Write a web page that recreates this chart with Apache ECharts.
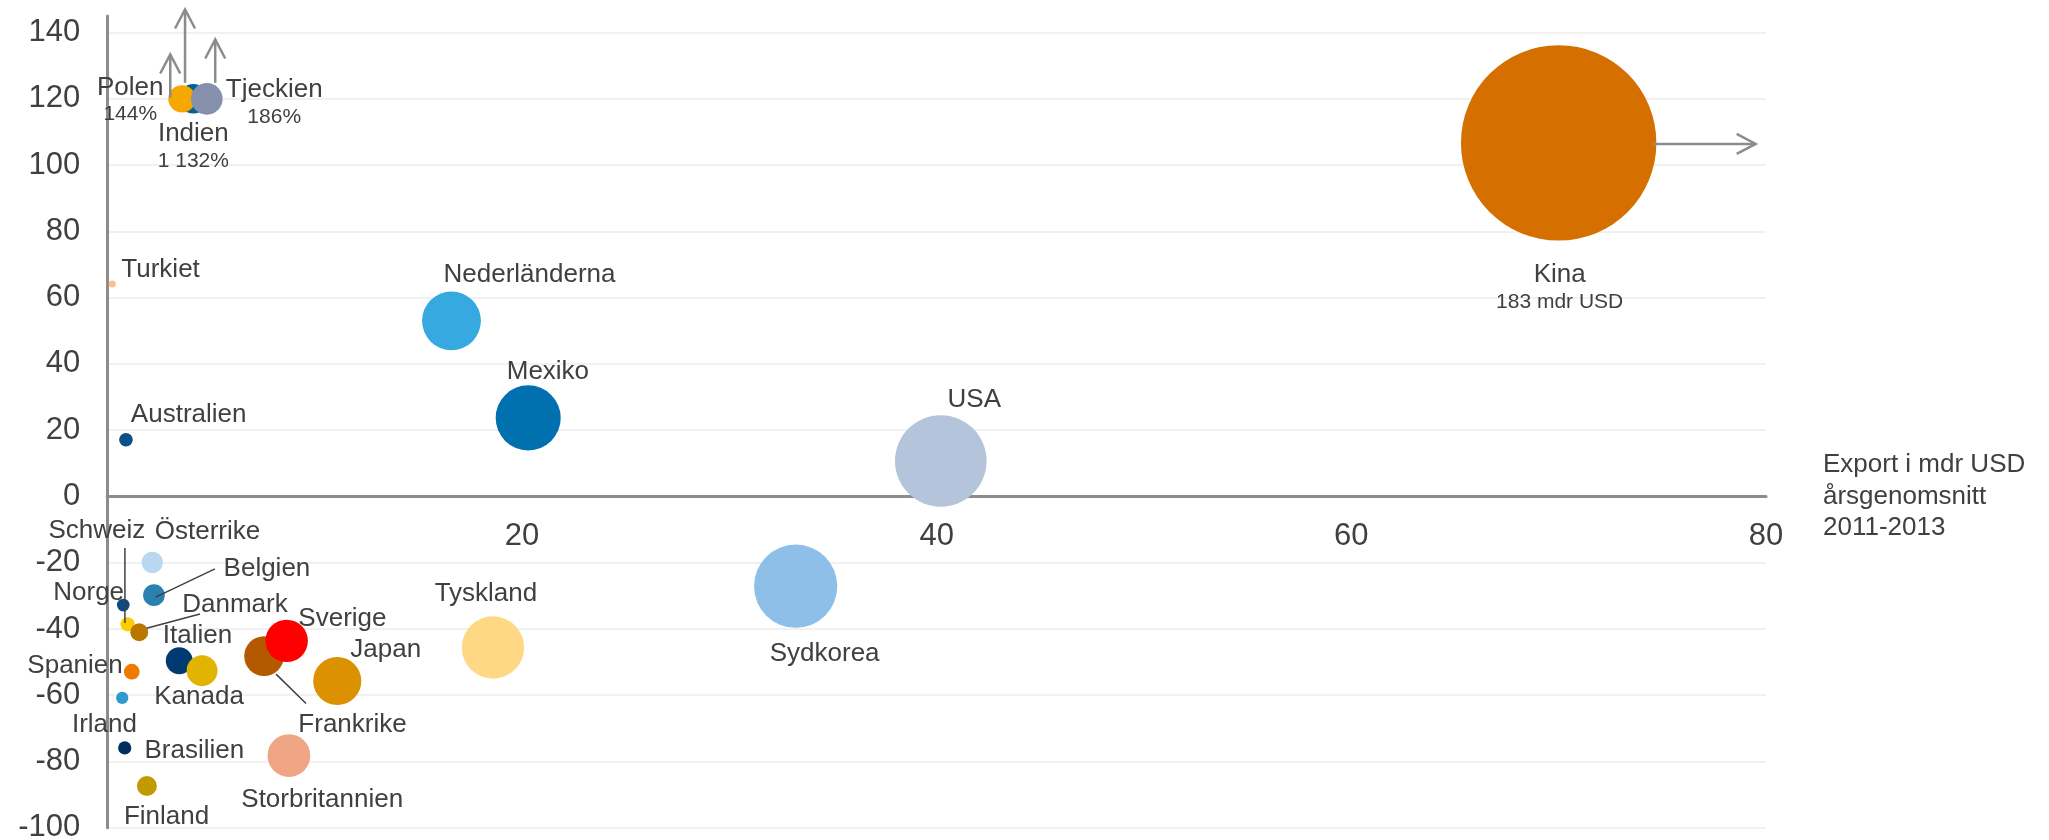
<!DOCTYPE html>
<html><head><meta charset="utf-8">
<script src="https://cdn.jsdelivr.net/npm/echarts@6/dist/echarts.min.js"></script>
<style>html,body{margin:0;padding:0;background:#fff}#c{width:2049px;height:840px}</style>
</head><body><div id="c"></div>
<script>
// ---- data (draw order) ----
const countries = ['Kina','USA','Sydkorea','Tyskland','Nederländerna','Mexiko','Australien','Turkiet','Indien','Polen','Tjeckien','Österrike','Belgien','Norge','Schweiz','Danmark','Italien','Kanada','Spanien','Irland','Brasilien','Finland','Frankrike','Sverige','Japan','Storbritannien'];
// export, mdr USD, yearly average 2011-2013 (x value and bubble area)
const exportMdr = [183, 40.2, 33.2, 18.6, 16.6, 20.3, 0.9, 0.24, 4.15, 3.6, 4.8, 2.17, 2.25, 0.77, 0.98, 1.54, 3.47, 4.57, 1.18, 0.72, 0.84, 1.91, 7.56, 8.65, 11.09, 8.76];
// change in %, y value
const changePct = [106.7, 10.7, -27.1, -45.6, 53.0, 23.7, 17.1, 64.1, 1132, 144, 186, -19.9, -29.8, -32.8, -38.6, -41.0, -49.6, -52.6, -52.9, -60.8, -75.9, -87.4, -48.2, -43.6, -55.7, -78.2];
const xCap = 70;   // values beyond this are drawn at the cap with an arrow
const yCap = 120;
const xTicks = {min: 0, max: 80, interval: 20};
const yTicks = {min: -100, max: 145, interval: 20};
const xTitle = 'Export i mdr USD\nårsgenomsnitt\n2011-2013';

// ---- styles ----
const colors = {
  'Kina':'#D46F00','USA':'#B4C4DA','Sydkorea':'#8DBFE8','Tyskland':'#FFD885','Nederländerna':'#36A9E1',
  'Mexiko':'#0070AF','Australien':'#0B5088','Turkiet':'#FBBF8C','Indien':'#00639A','Polen':'#F5A800',
  'Tjeckien':'#8591AC','Österrike':'#B9D7F0','Belgien':'#2A80AE','Norge':'#0A4A87','Schweiz':'#FFCC00',
  'Danmark':'#B87800','Italien':'#003A70','Kanada':'#E0B400','Spanien':'#EE7B00','Irland':'#2E9AD0',
  'Brasilien':'#002F5F','Finland':'#C09A00','Frankrike':'#B35A00','Sverige':'#FF0000','Japan':'#DB9100',
  'Storbritannien':'#F0A584'
};
const labelOffset = {
  'Kina':[1,143.5],'Polen':[-51.7,0.2],'Indien':[0,46.7],'Tjeckien':[67.4,2.7],'Turkiet':[48.3,-16.3],
  'Australien':[62.7,-26.7],'Nederländerna':[78,-48],'Mexiko':[19.7,-48],'USA':[33.5,-63],
  'Tyskland':[-7,-55.7],'Sydkorea':[29,65.4],'Schweiz':[-30.7,-95],'Österrike':[55.2,-33],
  'Belgien':[113,-28.6],'Norge':[-34.6,-14.6],'Danmark':[95.7,-29],'Italien':[18.2,-27.4],
  'Spanien':[-56.7,-7.7],'Kanada':[-3,24.3],'Sverige':[55.8,-23.7],'Japan':[48.5,-32.7],
  'Frankrike':[88.5,66.7],'Irland':[-17.8,24.7],'Brasilien':[69.6,1.3],'Storbritannien':[33.3,42.6],
  'Finland':[19.7,29]
};
const LABEL_DY = 2; // glyph baseline correction
const leaders = {
  'Schweiz':[[-2.7,-76.3],[-2.7,-1.3]],
  'Belgien':[[61,-26.3],[1.7,2]],
  'Danmark':[[60.7,-18.3],[7.4,-4]],
  'Frankrike':[[12,18],[42,47.3]]
};
const arrows = {
  'Kina':[[94,1],[197,1]],
  'Polen':[[-11.7,-1.3],[-11.7,-44.3]],
  'Indien':[[-8.3,-16],[-8.3,-89.3]],
  'Tjeckien':[[8.4,-16],[8.4,-59.3]]
};
const FONT = 'Liberation Sans, Arial, sans-serif';
const TXT = '#404040';
const AXIS = '#8C8C8C';

function fmtThousands(n){ return String(n).replace(/\B(?=(\d{3})+(?!\d))/g, ' '); }

const data = countries.map((name, i) => {
  const ex = exportMdr[i], ch = changePct[i];
  const x = Math.min(ex, xCap), y = Math.min(ch, yCap);
  let sub = null;
  if (ex > xCap) sub = fmtThousands(ex) + ' mdr USD';
  else if (ch > yCap) sub = fmtThousands(ch) + '%';
  const off = labelOffset[name];
  return {
    name, value: [x, y, ex],
    itemStyle: {color: colors[name], opacity: 1},
    label: {
      offset: [off[0], off[1] + LABEL_DY],
      formatter: sub ? '{a|' + name + '}\n{b|' + sub + '}' : '{a|' + name + '}'
    }
  };
});

const chart = echarts.init(document.getElementById('c'), null, {renderer: 'canvas'});
chart.setOption({
  animation: false,
  backgroundColor: '#fff',
  grid: {left: 107.3, right: 283, top: 16, bottom: 12.25, outerBoundsMode: 'none', containLabel: false},
  xAxis: {
    type: 'value', min: xTicks.min, max: xTicks.max, interval: xTicks.interval,
    axisLine: {show: true, onZero: false, lineStyle: {color: AXIS, width: 3}},
    axisTick: {show: false},
    splitLine: {show: false},
    axisLabel: {fontSize: 31, color: TXT, fontFamily: FONT, margin: 25, showMinLabel: false},
    name: xTitle, nameLocation: 'end', nameGap: 57,
    nameTextStyle: {fontSize: 26, lineHeight: 31.5, color: TXT, fontFamily: FONT, align: 'left', verticalAlign: 'middle', padding: [4, 0, 0, 0]}
  },
  yAxis: {
    type: 'value', min: yTicks.min, max: yTicks.max, interval: yTicks.interval,
    axisLine: {show: true, onZero: false, lineStyle: {color: AXIS, width: 3}},
    axisTick: {show: false},
    splitLine: {show: true, showMaxLine: false, lineStyle: {color: '#EDEDED', width: 1.5}},
    axisLabel: {fontSize: 31, color: TXT, fontFamily: FONT, margin: 27, showMaxLabel: false, padding: [4, 0, 0, 0]}
  },
  series: [{
    type: 'scatter',
    data: data,
    symbolSize: v => 14.444 * Math.sqrt(v[2]),
    emphasis: {disabled: true},
    itemStyle: {opacity: 1},
    label: {
      show: true, position: 'inside', color: TXT, fontFamily: FONT, opacity: 1,
      align: 'center', verticalAlign: 'middle',
      rich: {
        a: {fontSize: 26, lineHeight: 27, color: TXT, fontFamily: FONT, align: 'center'},
        b: {fontSize: 21, lineHeight: 27, color: TXT, fontFamily: FONT, align: 'center'}
      }
    }
  }]
});

// move the x axis (line, labels, title) to the y = 0 line
const yZeroPx = chart.convertToPixel({yAxisIndex: 0}, 0);
const yMinPx = chart.convertToPixel({yAxisIndex: 0}, yTicks.min);
chart.setOption({xAxis: {offset: -(yMinPx - yZeroPx)}});

// leader lines and arrows anchored to the points' pixel positions
const els = [];
data.forEach(d => {
  const p = chart.convertToPixel({xAxisIndex: 0, yAxisIndex: 0}, [d.value[0], d.value[1]]);
  const L = leaders[d.name];
  if (L) {
    els.push({type: 'line', silent: true, z: 100,
      shape: {x1: p[0]+L[0][0], y1: p[1]+L[0][1], x2: p[0]+L[1][0], y2: p[1]+L[1][1]},
      style: {stroke: '#404040', lineWidth: 1.5}});
  }
  const A = arrows[d.name];
  if (A) {
    const x1 = p[0]+A[0][0], y1 = p[1]+A[0][1], x2 = p[0]+A[1][0], y2 = p[1]+A[1][1];
    const len = Math.hypot(x2-x1, y2-y1), ux = (x2-x1)/len, uy = (y2-y1)/len;
    const hl = 19, hw = 10;
    els.push({type: 'line', silent: true, z: 100,
      shape: {x1, y1, x2, y2}, style: {stroke: AXIS, lineWidth: 2.5}});
    els.push({type: 'polyline', silent: true, z: 100,
      shape: {points: [[x2 - ux*hl - uy*hw, y2 - uy*hl + ux*hw], [x2, y2], [x2 - ux*hl + uy*hw, y2 - uy*hl - ux*hw]]},
      style: {stroke: AXIS, lineWidth: 2.5, fill: null}});
  }
});
chart.setOption({graphic: {elements: els}});
</script>
</body></html>
